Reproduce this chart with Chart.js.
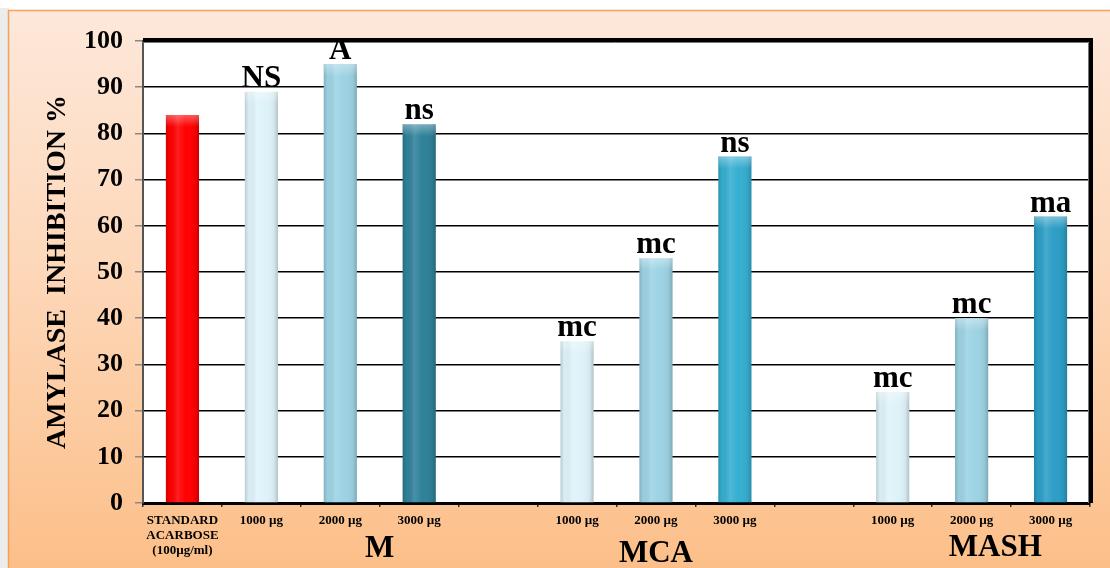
<!DOCTYPE html>
<html>
<head>
<meta charset="utf-8">
<script src="https://cdn.jsdelivr.net/npm/chart.js@4/dist/chart.umd.min.js"></script>
<style>
  html, body { margin: 0; padding: 0; background: #fff; }
  #wrap { width: 1110px; height: 568px; }
</style>
</head>
<body>
<div id="wrap"><canvas id="c" width="1110" height="568"></canvas></div>
<script>
// ---- data ----
const categories = [
  ['STANDARD', 'ACARBOSE', '(100\u00b5g/ml)'],
  '1000 \u00b5g', '2000 \u00b5g', '3000 \u00b5g', '',
  '1000 \u00b5g', '2000 \u00b5g', '3000 \u00b5g', '',
  '1000 \u00b5g', '2000 \u00b5g', '3000 \u00b5g'
];
const inhibitionValues = [84, 89, 95, 82, null, 35, 53, 75, null, 24, 40, 62];
const significanceLabels = ['', 'NS', 'A', 'ns', '', 'mc', 'mc', 'ns', '', 'mc', 'mc', 'ma'];
const groupNames = ['M', 'MCA', 'MASH'];
const yTicks = [0, 10, 20, 30, 40, 50, 60, 70, 80, 90, 100];
const yAxisTitle = 'AMYLASE  INHIBITION %';

// ---- styles ----
const barColors = ['#ff0000', '#def3f9', '#9dd3e4', '#2f8199', '', '#def3f9', '#9dd3e4', '#36aed2', '', '#def3f9', '#9dd3e4', '#2d9ec6'];
const groupAnchors = [2.5, 6, 10.3];   // category-index positions of group captions
const groupBaselines = [557, 562, 556];
const SERIF = '"Liberation Serif", "DejaVu Serif", serif';

const bgPlugin = {
  id: 'bg',
  beforeDraw(chart) {
    const ctx = chart.ctx;
    ctx.save();
    ctx.fillStyle = '#ffffff';
    ctx.fillRect(0, 0, chart.width, chart.height);
    ctx.fillStyle = '#ececec';
    ctx.fillRect(0, 8, 9, chart.height);
    const g = ctx.createLinearGradient(0, 10, 0, chart.height);
    g.addColorStop(0, '#fde8da');
    g.addColorStop(0.5, '#fdd6b6');
    g.addColorStop(1, '#fcbf89');
    ctx.fillStyle = g;
    ctx.fillRect(8, 10, chart.width - 8, chart.height - 10);
    ctx.strokeStyle = '#f4a15c';
    ctx.lineWidth = 1.5;
    ctx.beginPath();
    ctx.moveTo(8.5, chart.height);
    ctx.lineTo(8.5, 10.5);
    ctx.lineTo(chart.width, 10.5);
    ctx.stroke();
    const a = chart.chartArea;
    ctx.fillStyle = '#ffffff';
    ctx.fillRect(a.left, a.top, a.right - a.left, a.bottom - a.top);
    ctx.restore();
  }
};

const decoPlugin = {
  id: 'deco',
  afterDatasetsDraw(chart) {
    const ctx = chart.ctx;
    const a = chart.chartArea;
    const meta = chart.getDatasetMeta(0);
    ctx.save();
    // cylinder shading on bars
    meta.data.forEach((bar, i) => {
      if (inhibitionValues[i] == null) return;
      const w = bar.width, x0 = bar.x - w / 2;
      const g = ctx.createLinearGradient(x0, 0, x0 + w, 0);
      g.addColorStop(0, 'rgba(0,0,0,0.16)');
      g.addColorStop(0.12, 'rgba(0,0,0,0.02)');
      g.addColorStop(0.35, 'rgba(255,255,255,0.12)');
      g.addColorStop(0.6, 'rgba(255,255,255,0.0)');
      g.addColorStop(0.88, 'rgba(0,0,0,0.05)');
      g.addColorStop(1, 'rgba(0,0,0,0.2)');
      ctx.fillStyle = g;
      ctx.fillRect(x0, bar.y, w, bar.base - bar.y);
      const cap = ctx.createLinearGradient(0, bar.y, 0, bar.y + 12);
      cap.addColorStop(0, 'rgba(255,255,255,0.35)');
      cap.addColorStop(1, 'rgba(255,255,255,0)');
      ctx.fillStyle = cap;
      ctx.fillRect(x0, bar.y, w, 12);
    });
    // thick frame top & right
    ctx.strokeStyle = '#000';
    ctx.lineWidth = 4;
    ctx.beginPath();
    ctx.moveTo(a.left, a.top - 1);
    ctx.lineTo(a.right + 1, a.top - 1);
    ctx.lineTo(a.right + 1, a.bottom);
    ctx.stroke();
    ctx.strokeStyle = '#777';
    ctx.lineWidth = 1;
    ctx.beginPath();
    ctx.moveTo(a.left, a.top + 1.5);
    ctx.lineTo(a.right - 1.5, a.top + 1.5);
    ctx.lineTo(a.right - 1.5, a.bottom);
    ctx.stroke();
    // significance labels
    ctx.fillStyle = '#000';
    ctx.font = 'bold 31px ' + SERIF;
    ctx.textAlign = 'center';
    ctx.textBaseline = 'alphabetic';
    meta.data.forEach((bar, i) => {
      const t = significanceLabels[i];
      if (!t || inhibitionValues[i] == null) return;
      ctx.fillText(t, bar.x, bar.y - 5);
    });
    // group captions
    const xs = chart.scales.x;
    ctx.font = 'bold 31px ' + SERIF;
    groupNames.forEach((n, k) => {
      ctx.fillText(n, xs.getPixelForValue(groupAnchors[k]), groupBaselines[k]);
    });
    ctx.restore();
  }
};

new Chart(document.getElementById('c'), {
  type: 'bar',
  data: {
    labels: categories,
    datasets: [{
      data: inhibitionValues,
      backgroundColor: barColors,
      borderWidth: 0,
      categoryPercentage: 1,
      barPercentage: 0.42
    }]
  },
  options: {
    responsive: false,
    animation: false,
    layout: { padding: { top: 41, right: 20, left: 0, bottom: 0 } },
    plugins: { legend: { display: false }, tooltip: { enabled: false } },
    scales: {
      x: {
        afterFit(s) { s.height = 65; },
        grid: { offset: true, drawOnChartArea: false, drawTicks: true, tickLength: 4, color: '#333', lineWidth: 1.5 },
        border: { display: true, color: '#000', width: 3 },
        ticks: {
          color: '#000',
          padding: 6,
          maxRotation: 0,
          autoSkip: false,
          font: { family: SERIF, size: 13, weight: 'bold', lineHeight: 1.15 }
        }
      },
      y: {
        min: yTicks[0],
        max: yTicks[yTicks.length - 1],
        afterFit(s) { s.width = 143; },
        afterBuildTicks(s) { s.ticks = yTicks.map(v => ({ value: v })); },
        grid: { color: '#000', lineWidth: 1.5, drawTicks: true, tickLength: 8, tickColor: '#888' },
        border: { display: true, color: '#555', width: 2 },
        ticks: {
          color: '#000',
          padding: 12,
          font: { family: SERIF, size: 26, weight: 'bold' }
        },
        title: {
          display: true,
          text: yAxisTitle,
          color: '#000',
          padding: { top: 41, bottom: 0 },
          font: { family: SERIF, size: 28, weight: 'bold' }
        }
      }
    }
  },
  plugins: [bgPlugin, decoPlugin]
});
</script>
</body>
</html>
